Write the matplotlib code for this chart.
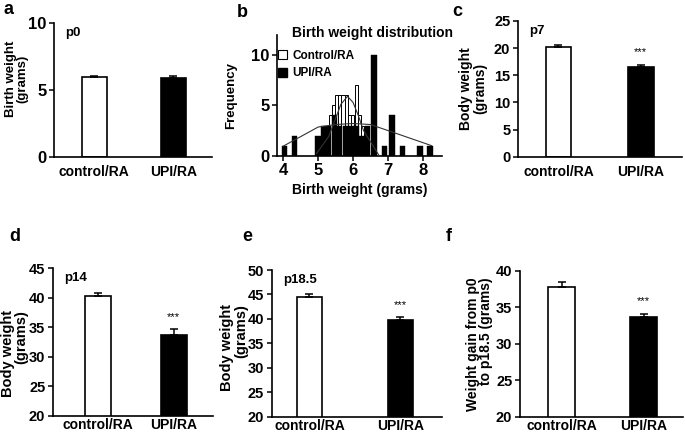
import numpy as np
import matplotlib
matplotlib.use("Agg")
import matplotlib.pyplot as plt
from matplotlib.patches import Patch

plt.rcParams['font.family'] = ['Liberation Sans', 'DejaVu Sans']
plt.rcParams['font.weight'] = 'bold'

W, H = 685, 433

groups = ['control/RA', 'UPI/RA']

# bar panels: mean and upper error (grams)
p0_mean = [5.95, 5.9]
p0_err = [0.05, 0.1]
p7_mean = [20.2, 16.6]
p7_err = [0.4, 0.3]
p14_mean = [40.2, 33.6]
p14_err = [0.5, 1.0]
p185_mean = [44.5, 39.7]
p185_err = [0.6, 0.6]
gain_mean = [37.8, 33.6]
gain_err = [0.6, 0.5]

# birth weight histogram (bin centres in grams, counts)
upi_bins = [4.03, 4.33, 4.99, 5.15, 5.30, 5.46, 5.62, 5.78, 5.94, 6.10, 6.26, 6.42, 6.60,
            6.90, 7.12, 7.42, 7.92, 8.21]
upi_counts = [1, 2, 2, 3, 3, 4, 3, 3, 3, 3, 2, 3, 10, 1, 4, 1, 1, 1]
ctrl_bins = [5.35, 5.44, 5.53, 5.62, 5.71, 5.80, 5.89, 5.98, 6.09, 6.18, 6.26, 6.35]
ctrl_counts = [4, 5, 6, 6, 6, 6, 4, 4, 7, 4, 3, 3]

# fitted distribution curves
upi_fit_x = [4.0, 4.5, 5.0, 5.5, 6.0, 6.5, 7.0, 7.5, 8.0, 8.25]
upi_fit_y = [0.95, 1.9, 2.85, 3.1, 3.2, 3.1, 2.5, 1.9, 1.3, 1.0]
ctrl_fit_x = [4.95, 5.3, 5.5, 5.65, 5.84, 6.0, 6.15, 6.3, 6.75]
ctrl_fit_y = [0.2, 1.9, 3.7, 5.1, 5.9, 5.3, 4.0, 2.5, 0.0]


def px_axes(fig, left, right, top, bottom):
    return fig.add_axes([left / W, (H - bottom) / H, (right - left) / W, (bottom - top) / H])


def style(ax, tick_size):
    for s in ['top', 'right']:
        ax.spines[s].set_visible(False)
    for s in ['left', 'bottom']:
        ax.spines[s].set_linewidth(1.2)
    ax.tick_params(axis='y', direction='out', length=3.5, width=1.1, labelsize=tick_size, pad=2)


def bar_panel(ax, means, errs, ylim, ticks, xlim, width, tag, ylabel, ylab_x, ylab_y, ylab_size,
              malign='center', stars=False, tick_size=10.5, xpad=2):
    x = np.arange(len(groups))
    ax.bar(x, means, width=width, color=['white', 'black'], edgecolor='black', linewidth=1.2, zorder=2)
    ax.errorbar(x, means, yerr=[np.zeros(len(errs)), errs], fmt='none', ecolor='black',
                elinewidth=1.1, capsize=3, capthick=1.1, zorder=3)
    ax.set_ylim(*ylim)
    ax.set_yticks(ticks, labels=[str(t) for t in ticks], fontweight='bold')
    ax.set_xlim(*xlim)
    ax.set_xticks(x, labels=groups, fontsize=10, fontweight='bold')
    ax.tick_params(axis='x', length=0, pad=xpad)
    style(ax, tick_size)
    if tag:
        ax.text(0.07, 0.97, tag, transform=ax.transAxes, fontsize=9.5, fontweight='bold',
                va='top', ha='left')
    ax.set_ylabel(ylabel, fontsize=ylab_size, fontweight='bold', multialignment=malign,
                  linespacing=0.95)
    ax.yaxis.set_label_coords(ylab_x, ylab_y)
    if stars:
        ax.annotate('***', (x[1], means[1] + errs[1]), xytext=(0, 9), textcoords='offset points',
                    ha='center', va='center', fontsize=8, fontweight='normal')


fig = plt.figure(figsize=(W / 100, H / 100), dpi=100)

# a
ax_a = px_axes(fig, 54, 212, 22.7, 156.7)
bar_panel(ax_a, p0_mean, p0_err, (0, 10), [0, 5, 10], (-0.51, 1.49), 0.32, 'p0',
          'Birth weight\n(grams)', -0.16, 0.58, 9.5, tick_size=12, xpad=6)

# b
ax_b = px_axes(fig, 277, 442, 35, 155.7)
ax_b.bar(ctrl_bins, ctrl_counts, width=0.09, color='white', edgecolor='black', linewidth=0.7, zorder=1)
ax_b.bar(upi_bins, upi_counts, width=0.155, color='black', edgecolor='black', linewidth=0.3, zorder=2)
ax_b.plot(upi_fit_x, upi_fit_y, color='#333333', lw=0.8, zorder=3)
ax_b.plot(ctrl_fit_x, ctrl_fit_y, color='#333333', lw=0.8, zorder=3)
ax_b.set_xlim(3.82, 8.55)
ax_b.set_ylim(0, 12)
ax_b.set_xticks([4, 5, 6, 7, 8], labels=['4', '5', '6', '7', '8'], fontweight='bold')
ax_b.set_yticks([0, 5, 10], labels=['0', '5', '10'], fontweight='bold')
style(ax_b, 12)
ax_b.tick_params(axis='x', direction='out', length=3.5, width=1.1, labelsize=12, pad=2)
ax_b.set_xlabel('Birth weight (grams)', fontsize=10, fontweight='bold', labelpad=3)
ax_b.set_ylabel('Frequency', fontsize=9.5, fontweight='bold')
ax_b.yaxis.set_label_coords(-0.24, 0.5)
fig.text(372 / W, 1 - 33 / H, 'Birth weight distribution', fontsize=10, fontweight='bold',
         ha='center', va='center')
handles = [Patch(facecolor='white', edgecolor='black', linewidth=0.8),
           Patch(facecolor='black', edgecolor='black')]
fig.legend(handles, ['Control/RA', 'UPI/RA'], loc='upper left',
           bbox_to_anchor=(272 / W, 1 - 44 / H), frameon=False, borderpad=0,
           handlelength=0.8, handleheight=0.8, handletextpad=0.4, labelspacing=0.45,
           prop={'size': 8.5, 'weight': 'bold'})

# c
ax_c = px_axes(fig, 518, 682, 21, 156.7)
bar_panel(ax_c, p7_mean, p7_err, (0, 25), [0, 5, 10, 15, 20, 25], (-0.49, 1.50), 0.31, 'p7',
          'Body weight\n(grams)', -0.19, 0.5, 10, stars=True, xpad=6)

# d
ax_d = px_axes(fig, 53, 213, 268, 415.7)
bar_panel(ax_d, p14_mean, p14_err, (20, 45), [20, 25, 30, 35, 40, 45], (-0.6, 1.52), 0.34, 'p14',
          'Body weight\n(grams)', -0.155, 0.42, 10.5, malign='right', stars=True)

# e
ax_e = px_axes(fig, 271.7, 442, 270, 416.7)
bar_panel(ax_e, p185_mean, p185_err, (20, 50), [20, 25, 30, 35, 40, 45, 50], (-0.415, 1.456), 0.275,
          'p18.5', 'Body weight\n(grams)', -0.14, 0.47, 10.5, malign='right', stars=True)

# f
ax_f = px_axes(fig, 520, 683, 270.7, 416.7)
bar_panel(ax_f, gain_mean, gain_err, (20, 40), [20, 25, 30, 35, 40], (-0.506, 1.48), 0.325,
          None, 'Weight gain from p0\nto p18.5 (grams)', -0.165, 0.5, 10, malign='right', stars=True)

# panel letters
for letter, x, y in [('a', 4, 14), ('b', 237, 17), ('c', 452, 16),
                     ('d', 9, 241), ('e', 242, 241), ('f', 446, 241)]:
    fig.text(x / W, 1 - y / H, letter, fontsize=13, fontweight='bold', ha='left', va='baseline')

fig.savefig('out.png', dpi=100)
